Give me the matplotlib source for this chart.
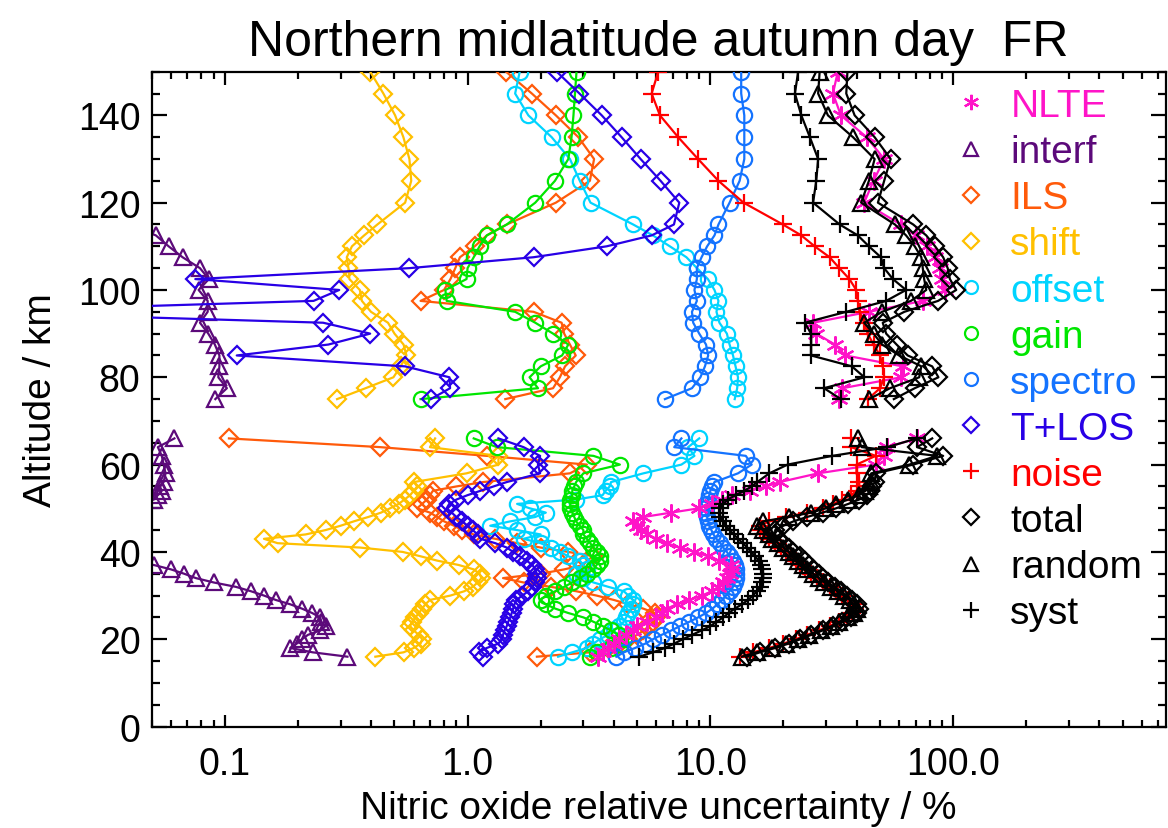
import matplotlib
matplotlib.use('Agg')
import matplotlib.pyplot as plt
from matplotlib.lines import Line2D
from matplotlib.ticker import FixedLocator, FixedFormatter, MultipleLocator, NullFormatter

plt.rcParams['font.family'] = ['Liberation Sans', 'DejaVu Sans']

# altitude grids (km): lower retrieval and upper retrieval
z_lo = [16, 17, 18, 19, 20, 21, 22, 23, 24, 25, 26, 27, 28, 29, 30, 31, 32, 33, 34, 35,
        36, 37, 38, 39, 40, 41, 42, 43, 44, 45, 46, 47, 48, 49, 50, 51, 52, 53, 54, 55,
        56, 58, 60, 62, 64, 66]
z_hi = [75, 77.5, 80, 82.5, 85, 87.5, 90, 92.5, 95, 97.5, 100, 102.5, 105, 107.5, 110,
        112.5, 115, 120, 125, 130, 135, 140, 145, 150]

# relative uncertainty (%) of each error component
nlte_lo = [3.45, 3.6, 3.8, 4.0, 4.2, 4.5, 4.8, 5.0, 5.5, 6.0,
           6.3, 6.6, 7.3, 8.2, 9.2, 10.2, 10.8, 11.3, 11.7, 12.0,
           12.3, 12.2, 10.9, 9.8, 8.6, 7.5, 6.6, 6.0, 5.5, 5.2,
           5.0, 4.8, 5.3, 6.9, 9.0, 10.2, 11.2, 12.3, 14.5, 17.0,
           19.3, 27.8, 48, 52, 53.5, 71]
nlte_hi = [34, 35, 61, 62, 36, 32.6, 27.3, 26.5, 45, 75, 93, 90, 88, 84, 78, 70, 61,
           43, 47, 52, 44, 34.5, 32, 33.5]

interf_lo = [0.32, 0.23, 0.186, 0.198, 0.208, 0.22, 0.247, 0.26, 0.25, 0.247,
             0.229, 0.208, 0.186, 0.162, 0.145, 0.128, 0.111, 0.09, 0.076, 0.068,
             0.06, 0.051, 0.04, 0.03, 0.03, 0.03, 0.03, 0.03, 0.03, 0.03,
             0.03, 0.03, 0.03, 0.03, 0.03, 0.045, 0.051, 0.053, 0.055, 0.054,
             0.056, 0.057, 0.056, 0.055, 0.053, 0.062]
interf_hi = [0.0914, 0.102, 0.094, 0.095, 0.095, 0.091, 0.0855, 0.079, 0.085, 0.085,
             0.078, 0.086, 0.079, 0.067, 0.0587, 0.052, 0.04, 0.03, 0.03, 0.03, 0.03,
             0.03, 0.03, 0.03]

ils_lo = [1.93, 3.2, 3.8, 4.2, 4.6, 5.0, 5.3, 5.6, 5.8, 6.0,
          5.9, 5.3, 4.6, 4.0, 3.4, 2.8, 2.2, 1.7, 1.4, 2.0,
          2.5, 3.0, 3.1, 3.3, 2.6, 2.0, 1.6, 1.3, 1.06, 0.95,
          0.88, 0.8, 0.75, 0.7, 0.62, 0.65, 0.68, 0.7, 0.72, 0.9,
          1.16, 2.64, 3.1, 1.2, 0.437, 0.104]
ils_hi = [1.43, 2.25, 2.4, 2.52, 2.79, 2.64, 2.5, 2.44, 1.87, 0.64, 0.8, 0.85, 0.89,
          0.93, 1.07, 1.2, 1.45, 2.31, 3.19, 3.32, 2.86, 2.31, 1.84, 1.44]

shift_lo = [0.417, 0.545, 0.6, 0.64, 0.65, 0.63, 0.6, 0.58, 0.59, 0.61,
            0.63, 0.65, 0.67, 0.7, 0.85, 0.97, 1.05, 1.1, 1.14, 1.12,
            1.06, 0.92, 0.75, 0.64, 0.54, 0.36, 0.165, 0.145, 0.215, 0.26,
            0.3, 0.34, 0.39, 0.44, 0.48, 0.52, 0.55, 0.58, 0.6, 0.62,
            0.6, 0.99, 1.34, 1.34, 0.70, 0.735]
shift_hi = [0.29, 0.38, 0.495, 0.53, 0.56, 0.545, 0.50, 0.47, 0.40, 0.367, 0.36, 0.326,
            0.323, 0.318, 0.334, 0.375, 0.425, 0.553, 0.586, 0.576, 0.544, 0.503,
            0.45, 0.397]

offset_lo = [2.36, 2.7, 3.1, 3.3, 3.5, 3.8, 4.0, 4.2, 4.4, 4.5,
             4.6, 4.7, 4.8, 4.8, 4.6, 4.4, 3.8, 3.3, 3.0, 2.8,
             3.1, 3.0, 2.9, 2.6, 2.4, 2.2, 2.0, 1.7, 2.0, 1.6,
             1.24, 1.5, 1.9, 2.1, 1.8, 1.6, 2.8, 3.6, 3.7, 3.85,
             3.9, 5.3, 7.6, 8.6, 8.1, 9.0]
offset_hi = [12.6, 12.9, 13.0, 12.7, 12.4, 12.0, 11.7, 10.9, 10.6, 10.8, 10.4, 9.77,
             8.81, 7.97, 6.81, 5.8, 4.81, 3.21, 2.9, 2.64, 2.22, 1.78, 1.57, 1.64]

gain_lo = [3.2, 3.4, 3.9, 4.3, 4.4, 4.2, 3.9, 3.6, 3.3, 3.0,
           2.6, 2.3, 2.1, 2.0, 2.1, 2.3, 2.5, 2.7, 2.9, 3.1,
           3.3, 3.4, 3.5, 3.5, 3.4, 3.3, 3.2, 3.1, 3.0, 3.0,
           2.9, 2.8, 2.75, 2.7, 2.65, 2.65, 2.65, 2.7, 2.7, 2.75,
           2.8, 3.0, 4.24, 3.3, 1.32, 1.06]
gain_hi = [0.64, 1.95, 1.8, 2.0, 2.45, 2.6, 2.25, 1.9, 1.57, 0.82, 0.81, 0.99, 1.0,
           1.06, 1.12, 1.2, 1.45, 1.9, 2.29, 2.6, 2.68, 2.73, 2.77, 2.81]

spectro_lo = [4.1, 4.4, 4.9, 5.4, 5.8, 6.3, 6.9, 7.5, 8.2, 8.9,
              9.6, 10.2, 10.7, 11.2, 11.6, 12.0, 12.4, 12.6, 12.8, 12.8,
              12.8, 12.6, 12.4, 12.0, 11.7, 11.3, 11.0, 10.6, 10.3, 10.1,
              9.9, 9.8, 9.7, 9.6, 9.6, 9.7, 9.8, 9.9, 10.0, 10.2,
              10.4, 13.0, 14.8, 14.0, 7.1, 7.6]
spectro_hi = [6.5, 8.4, 9.1, 9.5, 9.8, 9.6, 9.0, 8.5, 8.4, 8.8, 8.6, 8.8, 8.8, 9.2,
              9.7, 10.4, 10.8, 12.0, 13.2, 13.8, 13.8, 13.8, 13.4, 13.4]

tlos_lo = [1.16, 1.11, 1.2, 1.34, 1.38, 1.4, 1.42, 1.45, 1.47, 1.5,
           1.52, 1.54, 1.56, 1.59, 1.68, 1.78, 1.85, 1.9, 1.93, 1.93,
           1.9, 1.85, 1.75, 1.64, 1.54, 1.45, 1.3, 1.13, 1.1, 1.05,
           1.0, 0.95, 0.9, 0.86, 0.82, 0.84, 0.9, 1.0, 1.13, 1.28,
           1.45, 1.99, 1.95, 1.99, 1.7, 1.34]
tlos_hi = [0.706, 0.847, 0.842, 0.553, 0.112, 0.267, 0.397, 0.254, 0.008, 0.232,
           0.296, 0.0756, 0.576, 1.87, 3.74, 5.73, 7.08, 7.45, 6.24, 5.16, 4.31,
           3.57, 2.89, 2.33]

noise_lo = [13.2, 15, 17.5, 20, 22.5, 25, 28, 31, 34, 36.5,
            38.5, 39.5, 39, 37, 35, 33, 31, 29, 27.5, 26,
            24.5, 23.5, 22.5, 21.5, 20.5, 19.5, 18.5, 17.5, 16.5, 16,
            16, 17.5, 20.5, 25, 29, 32, 35, 38, 40, 41,
            41, 40, 40, 48, 38, 38]
noise_hi = [44.6, 50, 52, 51.3, 50, 47, 44.5, 43, 41.2, 40.5, 39.9, 37.4, 34, 31,
            26.9, 23.7, 19.9, 13.7, 10.8, 8.9, 7.37, 6.2, 5.73, 6.1]

total_lo = [14.1, 16, 18.5, 21, 23.5, 26, 29, 32, 35, 38,
            40, 41, 40, 38.5, 36.5, 34.5, 32.5, 30.5, 29, 28,
            26.5, 25.5, 24.5, 23.5, 22, 21, 20, 19, 18.5, 18.5,
            20, 22, 25, 29, 33, 37, 41, 44, 45.5, 46.5,
            47.5, 48, 68.5, 91, 71, 82]
total_hi = [57, 69.5, 87, 82, 65, 58.5, 53, 51.3, 63, 86.7, 103, 97, 95, 91, 84.3,
            77.5, 68.5, 49, 52, 55.3, 47.5, 39.3, 36.3, 36.7]

random_lo = [13.5, 15.5, 18, 20.5, 23, 25.5, 28.5, 31.5, 34, 37,
             39, 40, 39, 37.5, 35.5, 33.5, 31.5, 29.5, 28, 26.5,
             25, 24, 23, 22, 21, 20, 19, 18, 17.5, 16.5,
             15.5, 16.5, 21, 26, 30, 33, 37, 41, 43.5, 45,
             46, 46, 66, 86, 42, 40.5]
random_hi = [45, 55, 72.5, 74, 60, 51, 47, 43, 51, 67, 77.5, 76, 75, 74, 69.5, 64,
             57.6, 41.8, 45, 47.5, 38.7, 30.5, 27.8, 28.2]

syst_lo = [5.1, 5.8, 6.5, 7.1, 7.7, 8.4, 9.2, 10, 10.6, 11.3,
           11.9, 12.6, 13.5, 14.3, 15, 15.5, 16, 16.3, 16.5, 16.5,
           16.4, 16.1, 15.8, 15.3, 14.7, 14.2, 13.6, 13.0, 12.5, 12.0,
           11.6, 11.3, 11.0, 10.9, 11.0, 11.3, 11.8, 12.7, 13.8, 14.8,
           15.6, 17.5, 20.8, 31.8, 53.5, 71]
syst_hi = [34.5, 29.4, 43.1, 38.3, 26, 26, 26, 24.5, 36.3, 53, 64, 56.5, 52, 50.4, 45,
           40.5, 34.1, 26.5, 27.3, 27.8, 25.7, 23.7, 22.3, 23]

labels = ['NLTE', 'interf', 'ILS', 'shift', 'offset', 'gain', 'spectro', 'T+LOS',
          'noise', 'total', 'random', 'syst']
colors = ['#ff14c8', '#5c0a7a', '#ff5a0a', '#ffc000', '#00d4ff', '#00e600', '#1473ff',
          '#2800e6', '#ff0000', 'black', 'black', 'black']
markers = [(6, 2, 0), '^', 'D', 'D', 'o', 'o', 'o', 'D', '+', 'D', '^', '+']
sizes = [13, 12, 9, 9, 11, 11, 11, 9, 13, 9, 12, 13]
profiles = [(nlte_lo, nlte_hi), (interf_lo, interf_hi), (ils_lo, ils_hi),
            (shift_lo, shift_hi), (offset_lo, offset_hi), (gain_lo, gain_hi),
            (spectro_lo, spectro_hi), (tlos_lo, tlos_hi), (noise_lo, noise_hi),
            (total_lo, total_hi), (random_lo, random_hi), (syst_lo, syst_hi)]
# NLTE drawn over the instrument terms
zorders = [8, 2, 3, 4, 5, 6, 7, 7.5, 9, 10, 11, 12]

fig = plt.figure(figsize=(11.68, 8.29), dpi=100)
ax = fig.add_axes([0.1299, 0.1224, 0.8680, 0.7899])

for (lo, hi), c, m, s, zo in zip(profiles, colors, markers, sizes, zorders):
    for vals, z in ((lo, z_lo), (hi, z_hi)):
        ax.plot(vals, z, color=c, lw=1.6, marker=m, ms=s, mfc='none', mec=c,
                mew=1.6, zorder=zo)

ax.set_xscale('log')
ax.set_xlim(0.05, 750)
ax.set_ylim(0, 150)

ax.xaxis.set_major_locator(FixedLocator([0.1, 1, 10, 100]))
ax.xaxis.set_major_formatter(FixedFormatter(['0.1', '1.0', '10.0', '100.0']))
ax.xaxis.set_minor_formatter(NullFormatter())
ax.yaxis.set_major_locator(MultipleLocator(20))
ax.yaxis.set_minor_locator(MultipleLocator(5))

ax.tick_params(which='both', direction='in', top=True, right=True, width=1.6,
               labelsize=27)
ax.tick_params(axis='y', which='major', length=11, pad=8)
ax.tick_params(axis='y', which='minor', length=5.5)
ax.tick_params(axis='x', which='major', length=9, pad=14)
ax.tick_params(axis='x', which='minor', length=5)
for sp in ax.spines.values():
    sp.set_linewidth(1.6)

ax.set_xlabel('Nitric oxide relative uncertainty / %', fontsize=28, labelpad=6)
ax.set_ylabel('Altitude / km', fontsize=28, labelpad=14)
ax.set_title('Northern midlatitude autumn day  FR', fontsize=36, pad=12)

handles = [Line2D([], [], ls='none', marker=m, ms=s * 0.85, mfc='none', mec=c,
                  mew=1.6, color=c)
           for c, m, s in zip(colors, markers, sizes)]
ax.legend(handles, labels, loc='upper left', bbox_to_anchor=(0.797, 0.975),
          frameon=False, fontsize=28, labelcolor='linecolor', handlelength=0.6,
          handletextpad=0.7, labelspacing=0.26, borderpad=0, borderaxespad=0)

fig.savefig('out.png', dpi=100)
